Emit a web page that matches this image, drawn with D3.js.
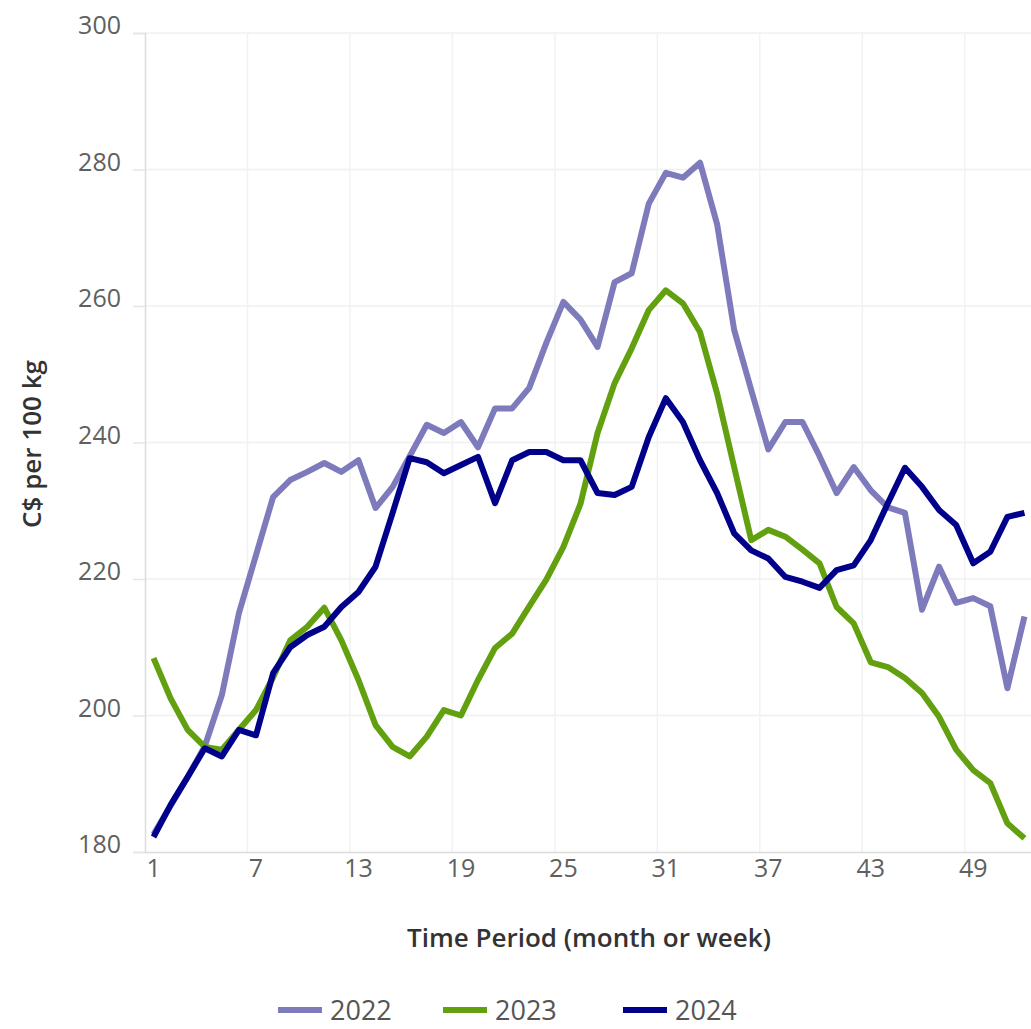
<!DOCTYPE html>
<html>
<head>
<meta charset="utf-8">
<script src="https://d3js.org/d3.v7.min.js"></script>
<style>
  body{
    margin: 0;
    background-color: white;
  }
  text{
    font-family: "Open Sans", "DejaVu Sans", sans-serif;
  }
</style>
</head>
<body>
<script>

// week numbers 1..52
const weeks = d3.range(1, 53);
const tickWeeks = [1, 7, 13, 19, 25, 31, 37, 43, 49];
const yTicks = [180, 200, 220, 240, 260, 280, 300];
const years = ["2022", "2023", "2024"];
const colors = ["#7d7bbb", "#62a010", "#00008b"];

// C$ per 100 kg
const v2022 = [182.6, 186.8, 191, 195.5, 203, 215, 223.5, 232, 234.5, 235.7,
  237, 235.7, 237.4, 230.4, 233.5, 238, 242.6, 241.4, 243, 239.3,
  245, 245, 248, 254.6, 260.6, 258, 254, 263.5, 264.8, 275,
  279.5, 278.8, 281, 272, 256.5, 247.7, 239, 243, 243, 238,
  232.6, 236.4, 233, 230.5, 229.7, 215.5, 221.8, 216.5, 217.2, 216,
  204, 214.5];
const v2023 = [208.4, 202.5, 197.9, 195.4, 195, 197.9, 200.8, 205.6, 211, 213,
  215.8, 211, 205.2, 198.6, 195.4, 194, 196.9, 200.8, 200, 205.2,
  209.9, 212, 216, 219.9, 224.7, 231, 241.4, 248.7, 253.8, 259.4,
  262.3, 260.4, 256.2, 247.2, 236.4, 225.7, 227.2, 226.2, 224.3, 222.3,
  215.9, 213.5, 207.8, 207.1, 205.5, 203.3, 199.8, 195, 192, 190.1,
  184.2, 182];
const v2024 = [182.2, 186.9, 191, 195.2, 194, 197.9, 197.1, 206.2, 210, 211.8,
  213, 215.9, 218.1, 221.8, 229.7, 237.7, 237.1, 235.5, 236.7, 237.9,
  231.1, 237.4, 238.6, 238.6, 237.4, 237.4, 232.6, 232.3, 233.5, 240.8,
  246.5, 243, 237.4, 232.6, 226.7, 224.2, 223, 220.3, 219.6, 218.7,
  221.3, 222, 225.7, 231.1, 236.3, 233.5, 230.1, 227.9, 222.3, 224,
  229.1, 229.7];
const seriesValues = [v2022, v2023, v2024];

const width = 1031;
const height = 1029;
const plotL = 145, plotR = 1033, plotT = 33, plotB = 852;

const svg = d3.select("body").append("svg")
  .attr("width", width).attr("height", height);

const xscale = d3.scaleBand().domain(weeks).range([plotL, plotR]);
const yscale = d3.scaleLinear().domain([180, 300]).range([plotB, plotT]);

// horizontal grid
svg.append("g")
  .selectAll("line")
  .data(yTicks.slice(1))
  .enter().append("line")
  .attr("x1", plotL).attr("x2", width)
  .attr("y1", d => yscale(d)).attr("y2", d => yscale(d))
  .attr("stroke", "#f0f0f0").attr("stroke-width", 1.5);

// vertical grid at the band edge of each labelled week
svg.append("g")
  .selectAll("line")
  .data(tickWeeks.slice(1))
  .enter().append("line")
  .attr("x1", d => xscale(d)).attr("x2", d => xscale(d))
  .attr("y1", plotT).attr("y2", plotB)
  .attr("stroke", "#f2f2f2").attr("stroke-width", 1.5);

// y axis
const yaxis = svg.append("g")
  .attr("transform", "translate(" + plotL + ",0)")
  .call(d3.axisLeft(yscale).tickValues(yTicks).tickSize(12).tickPadding(12));
yaxis.select(".domain").attr("stroke", "#dcdcdc").attr("stroke-width", 1.5);
yaxis.selectAll(".tick line").attr("stroke", "#e6e6e6").attr("stroke-width", 1.5);
yaxis.selectAll(".tick text")
  .attr("fill", "#606060").attr("font-size", 25)
  .attr("font-family", "'Open Sans', sans-serif")
  .attr("dy", "0.03em");

// x axis
const xaxis = svg.append("g")
  .attr("transform", "translate(0," + plotB + ")")
  .call(d3.axisBottom(xscale).tickValues(tickWeeks).tickSize(0).tickPadding(7));
xaxis.select(".domain").attr("stroke", "#dcdcdc").attr("stroke-width", 1.5);
xaxis.selectAll(".tick text")
  .attr("fill", "#606060").attr("font-size", 25)
  .attr("font-family", "'Open Sans', sans-serif");

// axis titles
svg.append("text")
  .attr("x", 589).attr("y", 947)
  .attr("text-anchor", "middle")
  .attr("font-size", 26).attr("font-weight", 600).attr("fill", "#333")
  .text("Time Period (month or week)");

svg.append("text")
  .attr("transform", "translate(41,444) rotate(-90)")
  .attr("text-anchor", "middle")
  .attr("font-size", 26).attr("font-weight", 600).attr("fill", "#333")
  .text("C$ per 100 kg");

// lines
const line = d3.line()
  .x((d, i) => xscale(weeks[i]) + xscale.bandwidth() / 2)
  .y(d => yscale(d));

svg.append("g")
  .selectAll("path")
  .data(seriesValues)
  .enter().append("path")
  .attr("d", line)
  .attr("fill", "none")
  .attr("stroke", (d, i) => colors[i])
  .attr("stroke-width", 6)
  .attr("stroke-linejoin", "round");

// legend
const legendX = [278, 443, 623];
const legend = svg.append("g")
  .selectAll("g")
  .data(years)
  .enter().append("g")
  .attr("transform", (d, i) => "translate(" + legendX[i] + ",1010)");

legend.append("line")
  .attr("x1", 0).attr("x2", 44)
  .attr("stroke", (d, i) => colors[i])
  .attr("stroke-width", 6);

legend.append("text")
  .attr("x", 52).attr("y", 10)
  .attr("font-size", 27).attr("fill", "#555")
  .text(d => d);

</script>
</body>
</html>
